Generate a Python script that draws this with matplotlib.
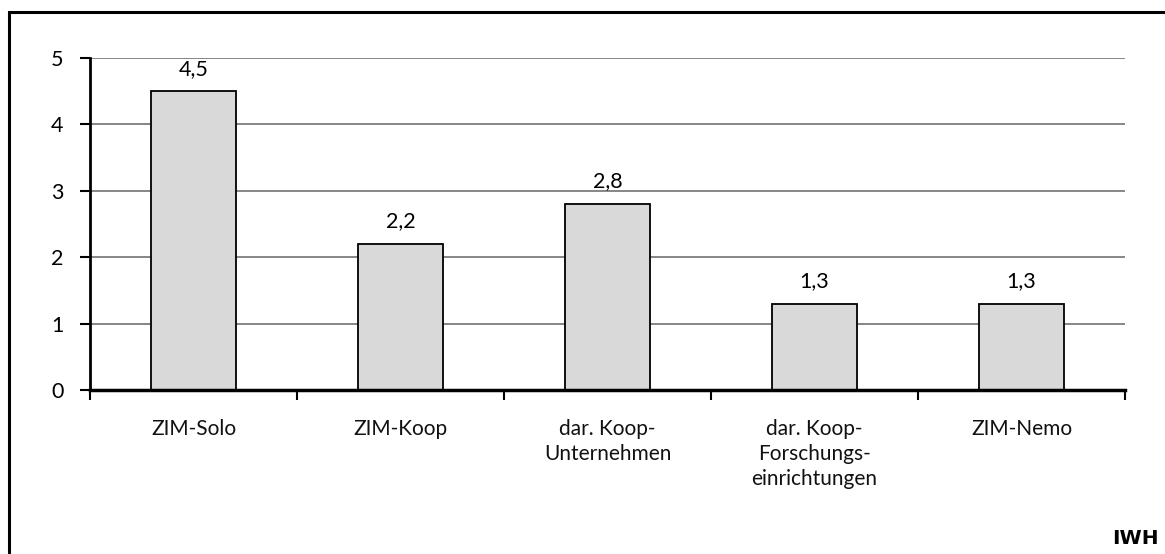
import matplotlib
matplotlib.use("Agg")
import matplotlib.pyplot as plt
from matplotlib.patches import Rectangle

categories = ["ZIM-Solo", "ZIM-Koop", "dar. Koop-\nUnternehmen", "dar. Koop-\nForschungs-\neinrichtungen", "ZIM-Nemo"]
values = [4.5, 2.2, 2.8, 1.3, 1.3]
value_labels = ["4,5", "2,2", "2,8", "1,3", "1,3"]
yticks = [0, 1, 2, 3, 4, 5]

plt.rcParams['font.family'] = ['Lato', 'DejaVu Sans']

W, H = 1165, 554
fig = plt.figure(figsize=(W / 100, H / 100), dpi=100)
ax = fig.add_axes([90 / W, 1 - 390 / H, (1125 - 90) / W, (390 - 58) / H])

x = list(range(len(categories)))
ax.bar(x, values, width=0.41, color="#d9d9d9", edgecolor="black", linewidth=1.3, zorder=3)
ax.set_xlim(-0.5, len(categories) - 0.5)
ax.set_ylim(0, 5)
ax.set_yticks(yticks)
ax.set_yticklabels([str(t) for t in yticks], fontsize=15.5)
ax.yaxis.grid(True, color="#868686", linewidth=1.4, zorder=0)
ax.set_axisbelow(True)

for s in ["top", "right"]:
    ax.spines[s].set_visible(False)
ax.spines["left"].set_linewidth(2)
ax.spines["bottom"].set_linewidth(2.5)
ax.spines["bottom"].set_zorder(4)
ax.tick_params(axis="y", direction="out", length=7, width=1.5, pad=12)

# x ticks at category boundaries, labels at centers
ax.set_xticks([i - 0.5 for i in range(len(categories) + 1)])
ax.set_xticklabels([])
ax.tick_params(axis="x", direction="out", length=7, width=1.5)
for i, c in enumerate(categories):
    ax.text(i, -0.44, c, ha="center", va="top", fontsize=15, linespacing=1.32,
            transform=ax.transData, color="#111111")

for i, (v, lab) in enumerate(zip(values, value_labels)):
    ax.annotate(lab, (i, v), xytext=(0, 9), textcoords="offset points",
                ha="center", va="bottom", fontsize=15.5)

fig.text(1159 / W, 1 - 538 / H, "IWH", ha="right", va="center", fontsize=14.5,
         fontweight="bold", family=["DejaVu Sans"])

fig.patches.append(Rectangle((9 / W, -0.1), 1.2, 1 - 12 / H + 0.1, transform=fig.transFigure,
                             fill=False, edgecolor="black", linewidth=2.2))

fig.savefig("out.png", dpi=100)
